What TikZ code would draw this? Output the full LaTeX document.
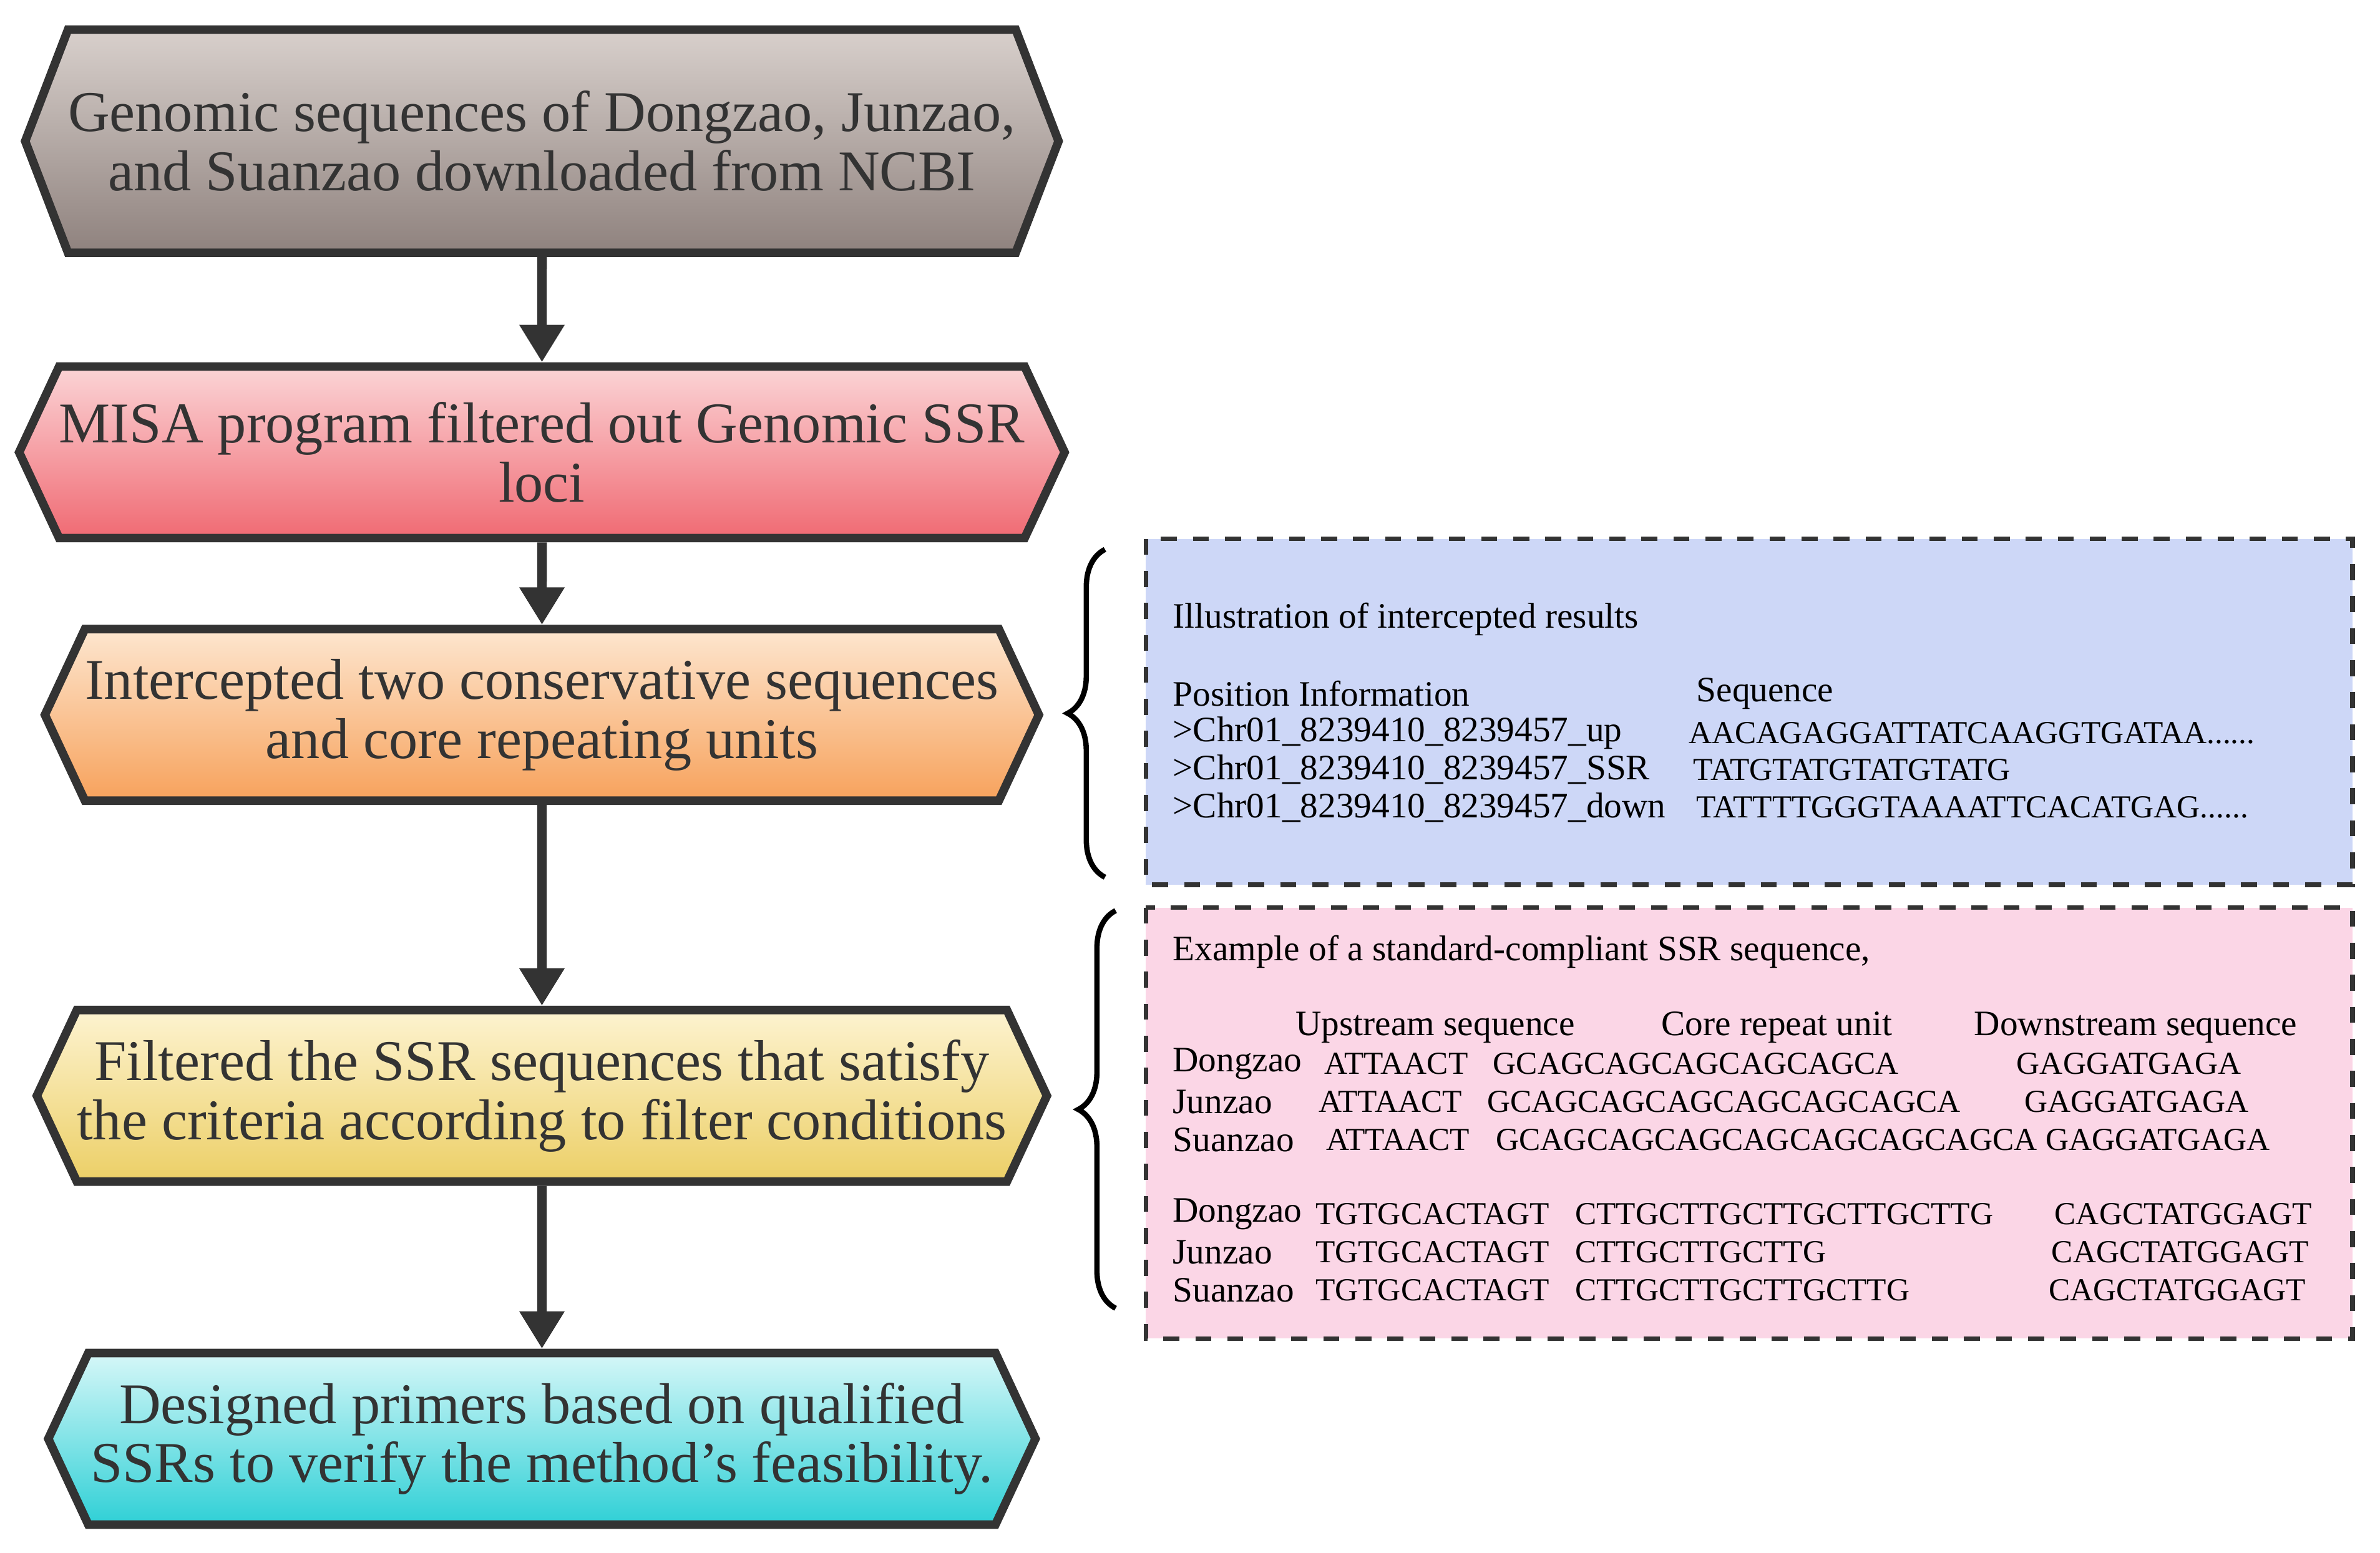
\documentclass[tikz,border=0pt]{standalone}
\usepackage{fontspec}
\setmainfont{Liberation Serif}
\usetikzlibrary{shapes.symbols,arrows.meta,decorations.pathreplacing}
\definecolor{txt}{HTML}{333333}
\tikzset{
 hexa/.style={signal, signal to=west and east, signal pointer angle=130, draw=txt, line width=1.6pt,
   minimum width=6.5cm, minimum height=1.13cm, inner sep=0pt, align=center, text=txt,
   font=\fontsize{10.8}{11.1}\selectfont},
 arr/.style={-{Triangle[length=7pt,width=8pt]}, line width=1.8pt, draw=txt},
 dbox/.style={draw=txt, dashed, line width=0.9pt},
 sm/.style={anchor=west, inner sep=0pt, text=black, font=\fontsize{6.7}{7}\selectfont},
 sq/.style={sm, font=\fontsize{6.0}{7}\selectfont},
 br/.style={decorate, decoration={brace, amplitude=7pt, mirror}, line width=1pt, draw=black}
}
\begin{document}
\begin{tikzpicture}[x=0.01cm,y=-0.01cm]
\useasboundingbox (0,0) rectangle (1568,1023);
\node[hexa, minimum height=1.47cm, signal pointer angle=138, top color={rgb,255:red,216;green,208;blue,204}, bottom color={rgb,255:red,143;green,130;blue,126}] (b1) at (357,93) {Genomic sequences of Dongzao, Junzao,\\and Suanzao downloaded from NCBI};
\node[hexa, top color={rgb,255:red,251;green,212;blue,214}, bottom color={rgb,255:red,240;green,106;blue,115}] (b2) at (357,298) {MISA program filtered out Genomic SSR\\loci};
\node[hexa, top color={rgb,255:red,253;green,230;blue,207}, bottom color={rgb,255:red,247;green,162;blue,92}] (b3) at (357,471) {Intercepted two conservative sequences\\and core repeating units};
\node[hexa, minimum width=6.6cm, top color={rgb,255:red,253;green,243;blue,208}, bottom color={rgb,255:red,236;green,207;blue,102}] (b4) at (357,722) {Filtered the SSR sequences that satisfy\\the criteria according to filter conditions};
\node[hexa, top color={rgb,255:red,214;green,247;blue,248}, bottom color={rgb,255:red,47;green,208;blue,214}] (b5) at (357,948) {Designed primers based on qualified\\SSRs to verify the method's feasibility.};
\draw[arr] (b1) -- (b2);
\draw[arr] (b2) -- (b3);
\draw[arr] (b3) -- (b4);
\draw[arr] (b4) -- (b5);

\draw[dbox, fill={rgb,255:red,205;green,215;blue,247}] (755,355) rectangle (1550,583);
\draw[dbox, fill={rgb,255:red,251;green,214;blue,230}] (755,598) rectangle (1550,882);
\coordinate (t1) at (728,362); \coordinate (u1) at (728,578);
\coordinate (t2) at (735,600); \coordinate (u2) at (735,862);
\draw[br] (t1) -- (u1);
\draw[br] (t2) -- (u2);

\node[sm] (a0) at (772,408) {Illustration of intercepted results};
\node[sm] (a1) at (772,457) {Position Information};
\node[sm] (a2) at (1117,457) {Sequence};
\node[sm] (a3) at (772,483) {>Chr01\_8239410\_8239457\_up};
\node[sq] (a4) at (1112,483) {AACAGAGGATTATCAAGGTGATAA......};
\node[sm] (a5) at (772,507) {>Chr01\_8239410\_8239457\_SSR};
\node[sq] (a6) at (1115,507) {TATGTATGTATGTATG};
\node[sm] (a7) at (772,532) {>Chr01\_8239410\_8239457\_down};
\node[sq] (a8) at (1117,532) {TATTTTGGGTAAAATTCACATGAG......};

\node[sm] (c0) at (772,627) {Example of a standard-compliant SSR sequence,};
\node[sm] (h1) at (853,677) {Upstream sequence};
\node[sm] (h2) at (1094,677) {Core repeat unit};
\node[sm] (h3) at (1300,677) {Downstream sequence};
\node[sm] (r1) at (772,701) {Dongzao};
\node[sm] (r2) at (772,726) {Junzao};
\node[sm] (r3) at (772,751) {Suanzao};
\node[sq] (u1a) at (872,701) {ATTAACT};
\node[sq] (u2a) at (868,726) {ATTAACT};
\node[sq] (u3a) at (873,751) {ATTAACT};
\node[sq] (k1) at (983,701) {GCAGCAGCAGCAGCAGCA};
\node[sq] (k2) at (979,726) {GCAGCAGCAGCAGCAGCAGCA};
\node[sq] (k3) at (985,751) {GCAGCAGCAGCAGCAGCAGCAGCA};
\node[sq] (d1) at (1328,701) {GAGGATGAGA};
\node[sq] (d2) at (1333,726) {GAGGATGAGA};
\node[sq] (d3) at (1347,751) {GAGGATGAGA};
\node[sm] (s1) at (772,800) {Dongzao};
\node[sm] (s2) at (772,825) {Junzao};
\node[sm] (s3) at (772,850) {Suanzao};
\node[sq] (v1) at (866,800) {TGTGCACTAGT};
\node[sq] (v2) at (866,825) {TGTGCACTAGT};
\node[sq] (v3) at (866,850) {TGTGCACTAGT};
\node[sq] (w1) at (1037,800) {CTTGCTTGCTTGCTTGCTTG};
\node[sq] (w2) at (1037,825) {CTTGCTTGCTTG};
\node[sq] (w3) at (1037,850) {CTTGCTTGCTTGCTTG};
\node[sq] (x1) at (1353,800) {CAGCTATGGAGT};
\node[sq] (x2) at (1351,825) {CAGCTATGGAGT};
\node[sq] (x3) at (1349,850) {CAGCTATGGAGT};
\end{tikzpicture}
\end{document}
